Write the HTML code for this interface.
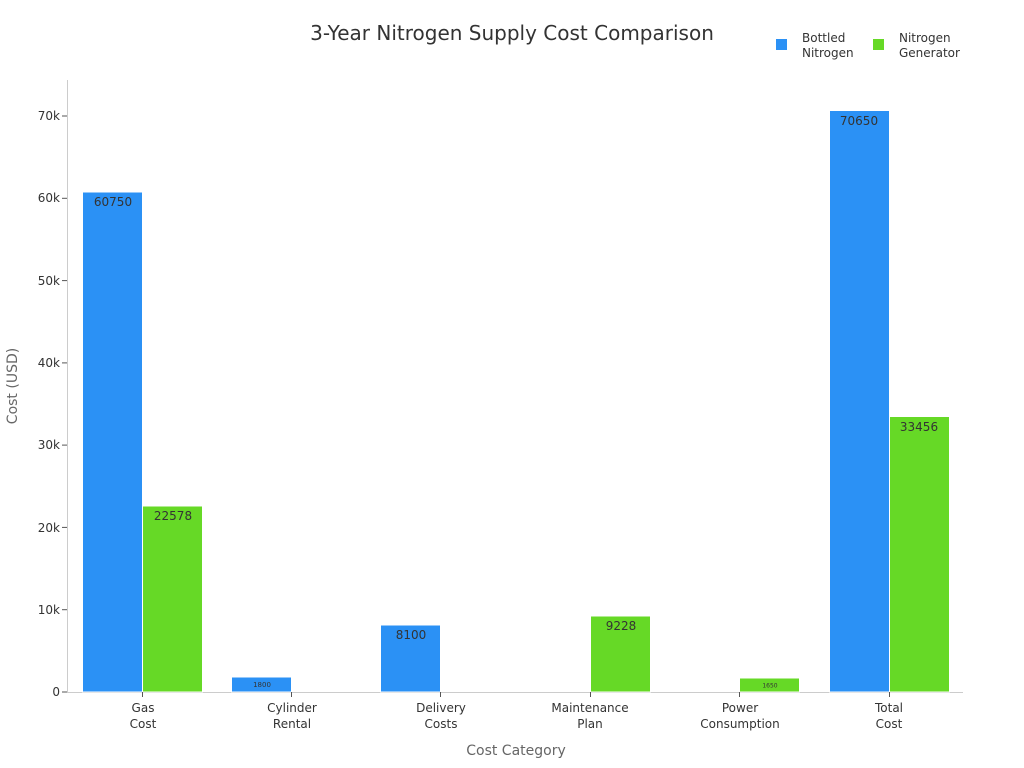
<!DOCTYPE html>
<html><head><meta charset="utf-8"><style>body{margin:0;background:#fff}svg{display:block}text{font-family:"DejaVu Sans","Liberation Sans",sans-serif}</style></head>
<body>
<svg width="1024" height="768" viewBox="0 0 1024 768">
<text x="512" y="40" font-size="20" fill="#333" text-anchor="middle">3-Year Nitrogen Supply Cost Comparison</text>
<rect x="776" y="39" width="11" height="11" fill="#2b91f5"/>
<text x="802" y="42" font-size="12" fill="#333">Bottled</text>
<text x="802" y="57" font-size="12" fill="#333">Nitrogen</text>
<rect x="873" y="39" width="11" height="11" fill="#66d926"/>
<text x="899" y="42" font-size="12" fill="#333">Nitrogen</text>
<text x="899" y="57" font-size="12" fill="#333">Generator</text>
<g stroke="#ccc" stroke-width="1">
<line x1="67.5" y1="80" x2="67.5" y2="692"/>
<line x1="67" y1="692.5" x2="963" y2="692.5"/>
</g>
<g stroke="#555" stroke-width="1">
<line x1="62" y1="692" x2="67" y2="692"/><line x1="62" y1="609.7" x2="67" y2="609.7"/><line x1="62" y1="527.4" x2="67" y2="527.4"/><line x1="62" y1="445.1" x2="67" y2="445.1"/><line x1="62" y1="362.9" x2="67" y2="362.9"/><line x1="62" y1="280.6" x2="67" y2="280.6"/><line x1="62" y1="198.3" x2="67" y2="198.3"/><line x1="62" y1="116" x2="67" y2="116"/>
</g>
<g font-size="12" fill="#333" text-anchor="end">
<text x="60" y="696">0</text><text x="60" y="614">10k</text><text x="60" y="532">20k</text><text x="60" y="449">30k</text><text x="60" y="367">40k</text><text x="60" y="285">50k</text><text x="60" y="202">60k</text><text x="60" y="120">70k</text>
</g>
<text transform="translate(17,386) rotate(-90)" font-size="14" fill="#666" text-anchor="middle">Cost (USD)</text>
<g stroke="#fff" stroke-width="1">
<rect x="82.5" y="192" width="60" height="500" fill="#2b91f5"/>
<rect x="142.5" y="506" width="60" height="186" fill="#66d926"/>
<rect x="231.5" y="677" width="60" height="15" fill="#2b91f5"/>
<rect x="380.5" y="625" width="60" height="67" fill="#2b91f5"/>
<rect x="590.5" y="616" width="60" height="76" fill="#66d926"/>
<rect x="739.5" y="678" width="60" height="14" fill="#66d926"/>
<rect x="829.5" y="110.5" width="60" height="581.5" fill="#2b91f5"/>
<rect x="889.5" y="416.5" width="60" height="275.5" fill="#66d926"/>
</g>
<g font-size="12" fill="#333" text-anchor="middle">
<text x="113" y="206">60750</text>
<text x="173" y="520">22578</text>
<text x="411" y="639">8100</text>
<text x="621" y="630">9228</text>
<text x="859" y="125">70650</text>
<text x="919" y="431">33456</text>
<text x="262" y="687" font-size="7">1800</text>
<text x="770" y="687.5" font-size="6">1650</text>
</g>
<g stroke="#555"><line x1="142.5" y1="692" x2="142.5" y2="697"/><line x1="291.5" y1="692" x2="291.5" y2="697"/><line x1="440.5" y1="692" x2="440.5" y2="697"/><line x1="590.5" y1="692" x2="590.5" y2="697"/><line x1="739.5" y1="692" x2="739.5" y2="697"/><line x1="889.5" y1="692" x2="889.5" y2="697"/></g>
<g font-size="12" fill="#333" text-anchor="middle">
<text x="143" y="712">Gas</text><text x="143" y="728">Cost</text>
<text x="292" y="712">Cylinder</text><text x="292" y="728">Rental</text>
<text x="441" y="712">Delivery</text><text x="441" y="728">Costs</text>
<text x="590" y="712">Maintenance</text><text x="590" y="728">Plan</text>
<text x="740" y="712">Power</text><text x="740" y="728">Consumption</text>
<text x="889" y="712">Total</text><text x="889" y="728">Cost</text>
</g>
<text x="516" y="755" font-size="14" fill="#666" text-anchor="middle">Cost Category</text>
</svg>
</body></html>
